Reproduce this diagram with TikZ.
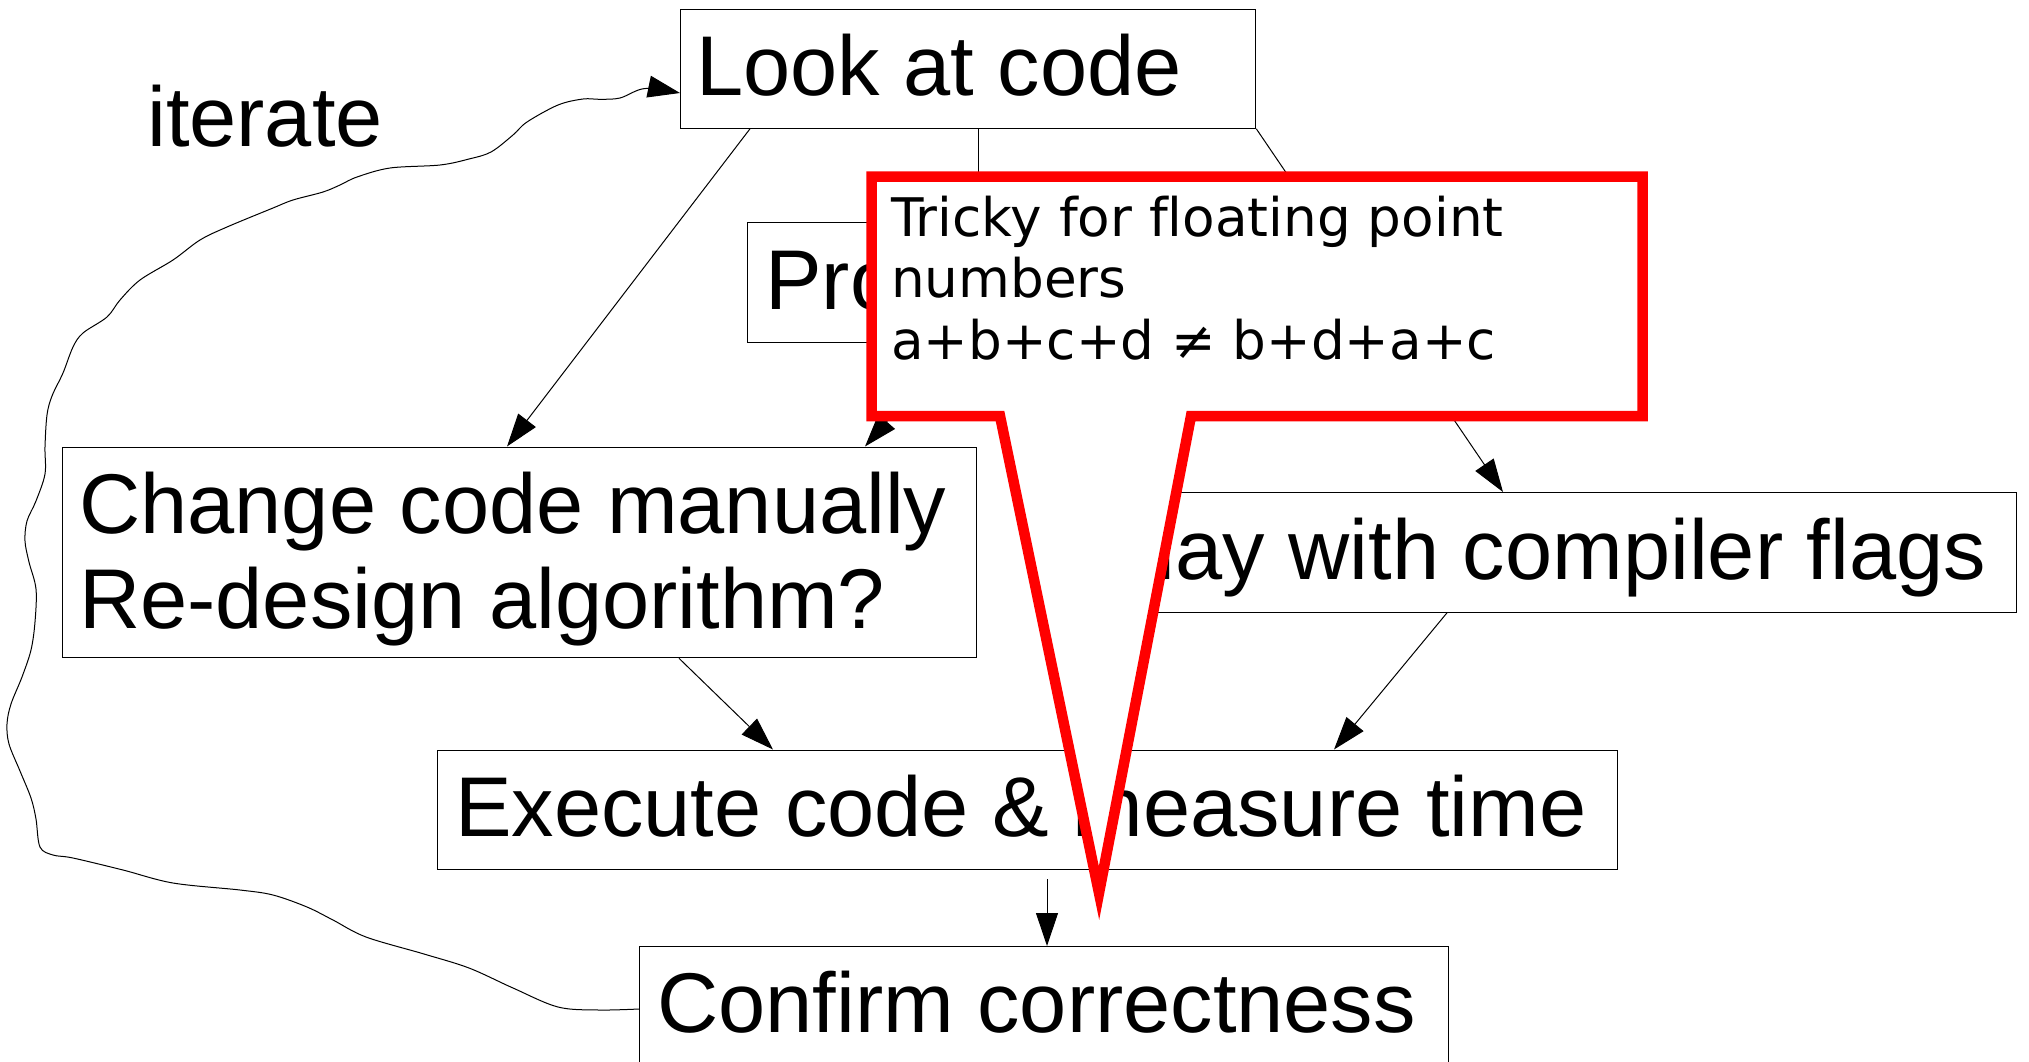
\documentclass[tikz,border=0pt]{standalone}
\usepackage{fontspec}
\setmainfont{Liberation Sans}[Ligatures={TeX,CommonOff}]
\newfontfamily\notefont{DejaVu Sans}[Ligatures=CommonOff]
\usetikzlibrary{arrows.meta,calc}

\begin{document}
\begin{tikzpicture}[x=1pt,y=-1pt,
  box/.style={draw=black, line width=1.3pt, inner sep=0pt, anchor=north west},
  boxtext/.style={anchor=base west, inner sep=0pt, font=\fontsize{84.8}{95}\selectfont},
  notetext/.style={anchor=base west, inner sep=0pt, font=\notefont\fontsize{53.2}{61.5}\selectfont},
  flow/.style={line width=1pt, -{Triangle[length=33pt,width=22pt]}},
  callout/.style={draw=red, fill=white, line width=10.5pt, line join=miter, miter limit=10}
]
% page
\fill[white] (0,0) rectangle (2029,1061);
\useasboundingbox (0,0) rectangle (2029,1061);

% process boxes
\node[box, minimum width=575pt, minimum height=119pt] (look) at (680,8.5) {};
\node[boxtext] (looktxt) at (696,95.7) {Look at code};

\node[box, minimum width=481pt, minimum height=120pt] (prof) at (747,222) {};
\node[boxtext] (proftxt) at (765,309) {Profile code};

\node[box, minimum width=914.5pt, minimum height=210.5pt] (change) at (61.5,446.5) {};
\node[boxtext] (changetxt1) at (79,533.3) {Change code manually};
\node[boxtext] (changetxt2) at (79,628.3) {Re-design algorithm?};

\node[box, minimum width=925pt, minimum height=119.5pt] (play) at (1091,492) {};
\node[boxtext] (playtxt) at (1100,579) {Play with compiler flags};

\node[box, minimum width=1180pt, minimum height=119.5pt] (exec) at (437,749.5) {};
\node[boxtext] (exectxt) at (455,836.7) {Execute code \& measure time};

\node[box, minimum width=809pt, minimum height=125pt] (confirm) at (639,946) {};
\node[boxtext] (confirmtxt) at (657,1032) {Confirm correctness};

\node[boxtext] (iter) at (147,146.7) {iterate};

% flow arrows
\draw[flow] (look.south -| 750,0) -- (change.north -| 507,0);
\draw[flow] (look.south -| 978,0) -- (prof.north -| 978,0);
\draw[flow] (look.south east) -- (play.north -| 1503,0);
\draw[flow] (prof.south -| 955,0) -- (change.north -| 865,0);
\draw[flow] (change.south -| 679,0) -- (exec.north -| 773,0);
\draw[flow] (play.south -| 1447,0) -- (exec.north -| 1334,0);
\draw[flow] ($(exec.south -| 1047,0)+(0,9)$) -- (confirm.north -| 1047,0);

% hand-drawn loop back to the start
\draw[line width=1pt, -{Triangle[length=32pt,width=22pt]}]
  plot[smooth, tension=0.55] coordinates {
    (confirm.west |- 0,1009) (599,1010) (558,1007) (513,988) (469,968)
    (424,954) (366,937) (333,920) (307,907) (273,895) (240,890) (173,883)
    (123,870) (73,858) (53,855) (40,847) (36,819) (31,798) (20,771)
    (9,744) (7,724) (11,704) (22,677) (31,650) (35,622) (36,589) (29,562)
    (25,541) (27,521) (36,501) (45,474) (45,447) (47,415) (52,396)
    (63,373) (73,347) (83,333) (107,317) (120,300) (140,280) (173,260)
    (200,240) (227,227) (273,208) (293,200) (323,192) (340,185) (357,177)
    (390,168) (440,165) (469,159) (491,152) (513,135) (527,122) (558,105)
    (583,99) (600,99.3) (620,98) (645,88.5) (look.west |- 0,93)};

% warning note with pointer
\draw[callout] (871.5,176.5) -- (1642.5,176.5) -- (1642.5,416) -- (1191,416)
  -- (1099,893) -- (1000,416) -- (871.5,416) -- cycle;
\node[notetext] (note1) at (891,236) {Tricky for floating point};
\node[notetext] (note2) at (891,297.5) {numbers};
\node[notetext] (note3) at (891,359) {a+b+c+d ≠ b+d+a+c};
\end{tikzpicture}
\end{document}
